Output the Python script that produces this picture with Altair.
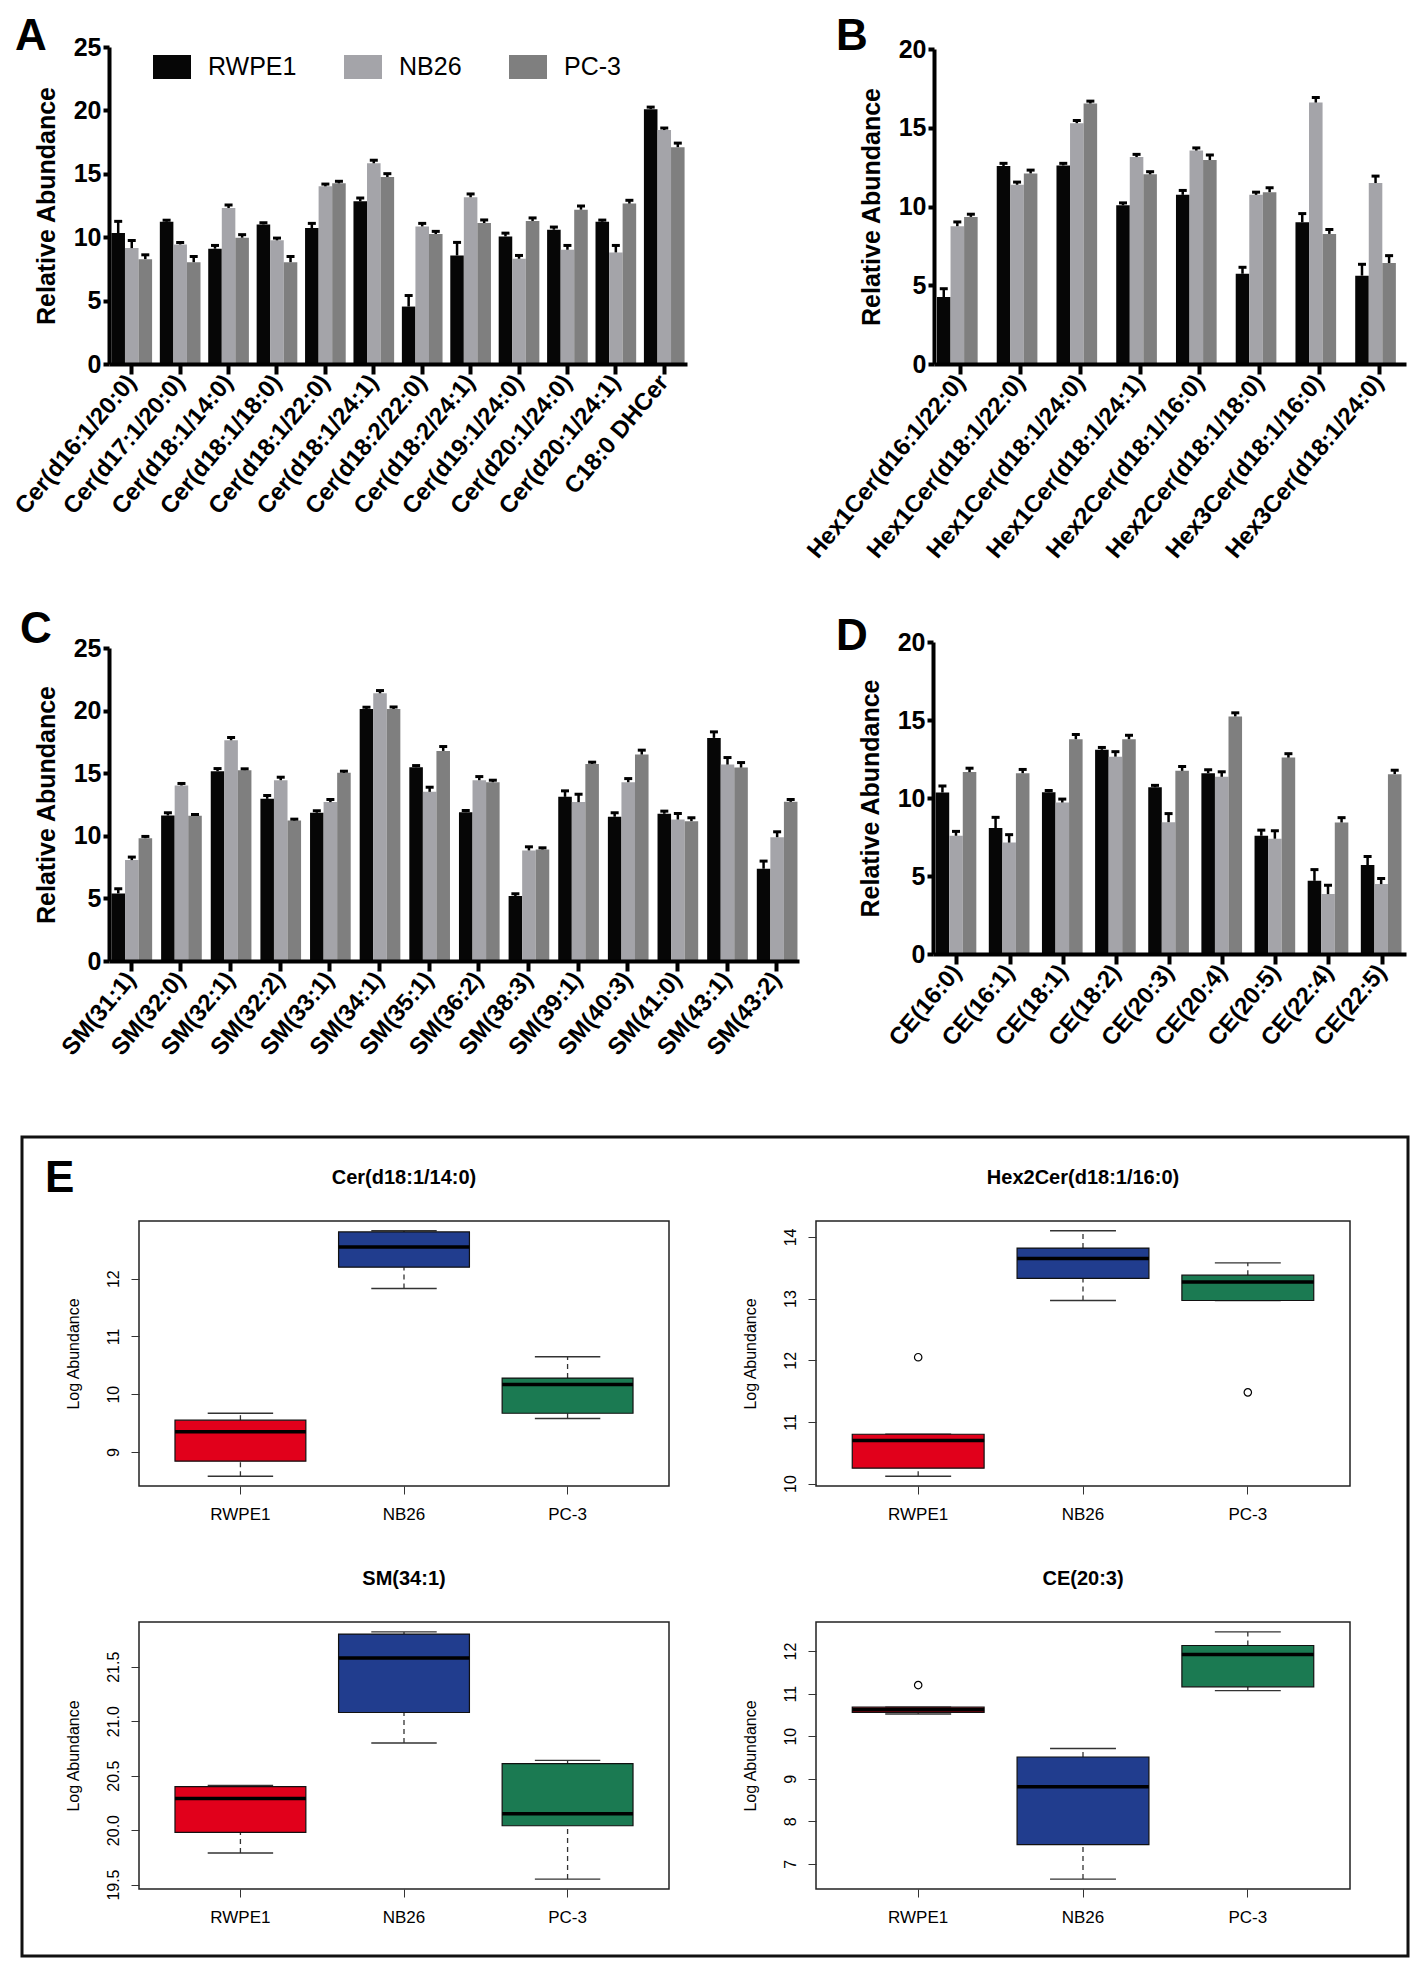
import altair as alt
import pandas as pd

GROUPS = ["RWPE1", "NB26", "PC-3"]
BAR_COLORS = ["#060606", "#a4a4a9", "#7f7f7f"]
BOX_COLORS = ["#e1001b", "#213d8e", "#1b7a52"]
FONT = "Liberation Sans, Arial, Helvetica, sans-serif"

# ---------------- Panel A ----------------
A_CATS = ["Cer(d16:1/20:0)", "Cer(d17:1/20:0)", "Cer(d18:1/14:0)", "Cer(d18:1/18:0)",
          "Cer(d18:1/22:0)", "Cer(d18:1/24:1)", "Cer(d18:2/22:0)", "Cer(d18:2/24:1)",
          "Cer(d19:1/24:0)", "Cer(d20:1/24:0)", "Cer(d20:1/24:1)", "C18:0 DHCer"]
A_RWPE1 = [10.33, 11.22, 9.09, 11.01, 10.72, 12.83, 4.53, 8.56, 10.06, 10.59, 11.22, 20.1]
A_RWPE1_ERR = [0.92, 0.12, 0.26, 0.13, 0.37, 0.26, 0.87, 1.03, 0.26, 0.21, 0.13, 0.16]
A_NB26 = [9.14, 9.43, 12.3, 9.75, 14.01, 15.83, 10.85, 13.15, 8.3, 9.01, 8.8, 18.45]
A_NB26_ERR = [0.6, 0.15, 0.24, 0.18, 0.18, 0.24, 0.24, 0.26, 0.26, 0.34, 0.55, 0.16]
A_PC3 = [8.27, 8.03, 9.96, 8.03, 14.25, 14.75, 10.25, 11.12, 11.28, 12.17, 12.65, 17.1]
A_PC3_ERR = [0.34, 0.45, 0.24, 0.45, 0.16, 0.26, 0.21, 0.24, 0.24, 0.29, 0.26, 0.32]

# ---------------- Panel B ----------------
B_CATS = ["Hex1Cer(d16:1/22:0)", "Hex1Cer(d18:1/22:0)", "Hex1Cer(d18:1/24:0)", "Hex1Cer(d18:1/24:1)",
          "Hex2Cer(d18:1/16:0)", "Hex2Cer(d18:1/18:0)", "Hex3Cer(d18:1/16:0)", "Hex3Cer(d18:1/24:0)"]
B_RWPE1 = [4.25, 12.57, 12.61, 10.08, 10.74, 5.73, 9.0, 5.61]
B_RWPE1_ERR = [0.53, 0.17, 0.13, 0.15, 0.28, 0.41, 0.55, 0.72]
B_NB26 = [8.75, 11.38, 15.29, 13.14, 13.55, 10.74, 16.6, 11.49]
B_NB26_ERR = [0.27, 0.17, 0.17, 0.17, 0.17, 0.17, 0.32, 0.44]
B_PC3 = [9.34, 12.1, 16.54, 12.04, 12.95, 10.91, 8.26, 6.41]
B_PC3_ERR = [0.17, 0.21, 0.15, 0.17, 0.32, 0.28, 0.28, 0.47]

# ---------------- Panel C ----------------
C_CATS = ["SM(31:1)", "SM(32:0)", "SM(32:1)", "SM(32:2)", "SM(33:1)", "SM(34:1)", "SM(35:1)",
          "SM(36:2)", "SM(38:3)", "SM(39:1)", "SM(40:3)", "SM(41:0)", "SM(43:1)", "SM(43:2)"]
C_RWPE1 = [5.4, 11.62, 15.16, 12.95, 11.84, 20.13, 15.48, 11.89, 5.19, 13.11, 11.52, 11.76, 17.82, 7.37]
C_RWPE1_ERR = [0.37, 0.22, 0.21, 0.27, 0.16, 0.14, 0.13, 0.13, 0.18, 0.48, 0.32, 0.21, 0.48, 0.61]
C_NB26 = [8.06, 14.02, 17.63, 14.44, 12.69, 21.38, 13.51, 14.44, 8.83, 12.69, 14.28, 11.3, 15.69, 9.89]
C_NB26_ERR = [0.24, 0.16, 0.22, 0.24, 0.21, 0.22, 0.37, 0.29, 0.29, 0.63, 0.29, 0.48, 0.56, 0.43]
C_PC3 = [9.81, 11.6, 15.24, 11.22, 15.03, 20.13, 16.78, 14.28, 8.91, 15.74, 16.49, 11.17, 15.45, 12.71]
C_PC3_ERR = [0.14, 0.1, 0.11, 0.11, 0.13, 0.16, 0.35, 0.16, 0.13, 0.14, 0.35, 0.27, 0.4, 0.19]

# ---------------- Panel D ----------------
D_CATS = ["CE(16:0)", "CE(16:1)", "CE(18:1)", "CE(18:2)", "CE(20:3)", "CE(20:4)", "CE(20:5)",
          "CE(22:4)", "CE(22:5)"]
D_RWPE1 = [10.35, 8.07, 10.37, 13.09, 10.69, 11.59, 7.58, 4.69, 5.7]
D_RWPE1_ERR = [0.42, 0.69, 0.11, 0.15, 0.12, 0.22, 0.36, 0.72, 0.55]
D_NB26 = [7.58, 7.14, 9.71, 12.65, 8.45, 11.36, 7.39, 3.84, 4.48]
D_NB26_ERR = [0.28, 0.51, 0.22, 0.32, 0.55, 0.32, 0.51, 0.57, 0.36]
D_PC3 = [11.66, 11.59, 13.77, 13.77, 11.74, 15.23, 12.59, 8.43, 11.53]
D_PC3_ERR = [0.25, 0.24, 0.3, 0.25, 0.28, 0.23, 0.25, 0.31, 0.25]

# ---------------- Panel E (box plot summaries) ----------------
E1_NAME = "Cer(d18:1/14:0)"
E1_LO = [8.58, 11.83, 9.58]
E1_Q1 = [8.84, 12.2, 9.67]
E1_MED = [9.35, 12.55, 10.17]
E1_Q3 = [9.55, 12.81, 10.28]
E1_HI = [9.67, 12.83, 10.65]
E1_OUT_GRP = []
E1_OUT_VAL = []
E1_TICKS = [9, 10, 11, 12]

E2_NAME = "Hex2Cer(d18:1/16:0)"
E2_LO = [10.12, 12.97, 12.97]
E2_Q1 = [10.25, 13.33, 12.97]
E2_MED = [10.7, 13.65, 13.27]
E2_Q3 = [10.8, 13.82, 13.38]
E2_HI = [10.8, 14.1, 13.58]
E2_OUT_GRP = ["RWPE1", "PC-3"]
E2_OUT_VAL = [12.05, 11.48]
E2_TICKS = [10, 11, 12, 13, 14]

E3_NAME = "SM(34:1)"
E3_LO = [19.79, 20.8, 19.55]
E3_Q1 = [19.98, 21.08, 20.04]
E3_MED = [20.29, 21.58, 20.15]
E3_Q3 = [20.4, 21.8, 20.61]
E3_HI = [20.41, 21.82, 20.64]
E3_OUT_GRP = []
E3_OUT_VAL = []
E3_TICKS = [19.5, 20.0, 20.5, 21.0, 21.5]

E4_NAME = "CE(20:3)"
E4_LO = [10.52, 6.64, 11.07]
E4_Q1 = [10.56, 7.45, 11.16]
E4_MED = [10.62, 8.81, 11.92]
E4_Q3 = [10.68, 9.51, 12.13]
E4_HI = [10.68, 9.71, 12.45]
E4_OUT_GRP = ["RWPE1"]
E4_OUT_VAL = [11.2]
E4_TICKS = [7, 8, 9, 10, 11, 12]


def letter_layer(letter, lx, ly):
    return alt.Chart(pd.DataFrame({"t": [letter]})).mark_text(
        font=FONT, fontSize=44, fontWeight="bold", align="left", baseline="alphabetic",
        color="black").encode(text="t:N", x=alt.value(lx), y=alt.value(ly))


def bar_panel(cats, vals, errs, ymax, yticks, xr, yr, w, h, pad_inner, letter, lpos, legend=None):
    rows = []
    for g, vs, es in zip(GROUPS, vals, errs):
        for c, v, e in zip(cats, vs, es):
            rows.append({"cat": c, "grp": g, "val": v, "top": round(v + e, 3)})
    df = pd.DataFrame(rows)
    x = alt.X("cat:N", sort=cats,
              scale=alt.Scale(domain=cats, range=xr, paddingInner=pad_inner, paddingOuter=0.05),
              axis=alt.Axis(title=None, labelAngle=310, labelAlign="right", labelBaseline="middle",
                            labelFont=FONT, labelFontSize=24, labelFontWeight="bold", labelColor="black",
                            labelLimit=500, labelOverlap=False, labelPadding=4, tickSize=10, tickWidth=4,
                            tickColor="black", domainWidth=4, domainColor="black", zindex=1))
    xo = alt.XOffset("grp:N", sort=GROUPS,
                     scale=alt.Scale(domain=GROUPS, paddingInner=0, paddingOuter=0))
    ys = alt.Scale(domain=[0, ymax], range=yr, nice=False, zero=True)
    yax = alt.Axis(values=yticks, grid=False, offset=-xr[0], labelFont=FONT, labelFontSize=25,
                   labelFontWeight="bold", labelColor="black", labelPadding=2, tickSize=6, tickWidth=4,
                   tickColor="black", domainWidth=4, domainColor="black", titleFont=FONT, titleFontSize=25,
                   titleFontWeight="bold", titleColor="black", titlePadding=14, zindex=1)

    def Y(f):
        return alt.Y(f, scale=ys, axis=yax, title="Relative Abundance")

    color = alt.Color("grp:N", scale=alt.Scale(domain=GROUPS, range=BAR_COLORS), legend=legend)
    base = alt.Chart(df)
    bars = base.mark_bar(strokeWidth=0, opacity=1).encode(x=x, xOffset=xo, y=Y("val:Q"), color=color)
    err = base.mark_rule(color="black", strokeWidth=2.5).encode(x=x, xOffset=xo, y=Y("val:Q"), y2="top:Q")
    cap = base.mark_tick(color="black", thickness=3, size=8, opacity=1).encode(x=x, xOffset=xo, y=Y("top:Q"))
    return alt.layer(bars, err, cap, letter_layer(letter, lpos[0], lpos[1])).properties(width=w, height=h)


def box_panel(name, lo, q1, med, q3, hi, out_grp, out_val, ticks, fmt, width, height):
    df = pd.DataFrame({"grp": GROUPS, "lo": lo, "q1": q1, "med": med, "q3": q3, "hi": hi,
                       "fill": BOX_COLORS})
    allv = lo + hi + out_val
    span = max(allv) - min(allv)
    dom = [min(allv) - 0.04 * span, max(allv) + 0.04 * span]
    step = width / 3.24
    box_w = 0.8 * step
    cap_w = 0.5 * box_w
    x = alt.X("grp:N", sort=GROUPS,
              scale=alt.Scale(domain=GROUPS, paddingInner=0.2, paddingOuter=0.22),
              axis=alt.Axis(title=None, labelAngle=0, labelFont=FONT, labelFontSize=17,
                            labelFontWeight="normal", labelColor="black", labelPadding=12,
                            tickSize=8, tickColor="#333333", tickWidth=1, domain=False))
    ys = alt.Scale(domain=dom, nice=False, zero=False)
    yax = alt.Axis(values=ticks, format=fmt, labelAngle=270, labelAlign="center", labelBaseline="bottom",
                   labelFont=FONT, labelFontSize=16, labelColor="black", labelPadding=10, tickSize=8,
                   tickColor="#333333", tickWidth=1, domain=False, grid=False, titleFont=FONT,
                   titleFontSize=16, titleFontWeight="normal", titleColor="black", titlePadding=24)

    def Y(f):
        return alt.Y(f, scale=ys, axis=yax, title="Log Abundance")

    base = alt.Chart(df)
    up = base.mark_rule(color="#333333", strokeWidth=1.3, strokeDash=[5, 4]).encode(x=x, y=Y("q3:Q"), y2="hi:Q")
    dn = base.mark_rule(color="#333333", strokeWidth=1.3, strokeDash=[5, 4]).encode(x=x, y=Y("lo:Q"), y2="q1:Q")
    cap_hi = base.mark_tick(color="#333333", thickness=1.4, size=cap_w, opacity=1).encode(x=x, y=Y("hi:Q"))
    cap_lo = base.mark_tick(color="#333333", thickness=1.4, size=cap_w, opacity=1).encode(x=x, y=Y("lo:Q"))
    box = base.mark_bar(stroke="#111111", strokeWidth=1.2, opacity=1).encode(
        x=x, y=Y("q1:Q"), y2="q3:Q", color=alt.Color("fill:N", scale=None))
    medl = base.mark_tick(color="black", thickness=3.5, size=box_w, opacity=1).encode(x=x, y=Y("med:Q"))
    layers = [up, dn, cap_hi, cap_lo, box, medl]
    if out_val:
        odf = pd.DataFrame({"grp": out_grp, "val": out_val})
        layers.append(alt.Chart(odf).mark_point(shape="circle", filled=False, size=55, color="black",
                                                strokeWidth=1.2, opacity=1).encode(x=x, y=Y("val:Q")))
    return alt.layer(*layers).properties(
        width=width, height=height,
        title=alt.Title(name, font=FONT, fontSize=20, fontWeight="bold", color="black",
                        offset=33, anchor="middle", frame="group"),
        view=alt.ViewBackground(stroke="#222222", strokeWidth=1.5))


SP_DF = pd.DataFrame({"v": [0]})


def spacer(w, h, letter=None, lpos=(0, 0), frame=None):
    layers = [alt.Chart(SP_DF).mark_point(opacity=0).encode(
        x=alt.X("v:Q", axis=None), y=alt.Y("v:Q", axis=None))]
    if letter:
        layers.append(letter_layer(letter, lpos[0], lpos[1]))
    if frame:
        layers.append(alt.Chart(pd.DataFrame({"f": [0]})).mark_rect(
            fillOpacity=0, stroke="#111111", strokeWidth=3).encode(
            x=alt.value(frame[0]), x2=alt.value(frame[1]), y=alt.value(frame[2]), y2=alt.value(frame[3])))
    return alt.layer(*layers).properties(width=w, height=h)


legendA = alt.Legend(orient="none", legendX=144, legendY=37, direction="horizontal", title=None,
                     symbolType="M-1,-0.632L1,-0.632L1,0.632L-1,0.632Z", symbolSize=1444,
                     symbolStrokeWidth=0, symbolOpacity=1, labelFont=FONT, labelFontSize=25,
                     labelFontWeight="normal", labelColor="black", labelOffset=17, columnPadding=47)

chartA = bar_panel(A_CATS, [A_RWPE1, A_NB26, A_PC3], [A_RWPE1_ERR, A_NB26_ERR, A_PC3_ERR],
                   25, [0, 5, 10, 15, 20, 25], [100, 678], [353, 36], 130, 353, 0.16,
                   "A", (6, 39), legend=legendA)
chartB = bar_panel(B_CATS, [B_RWPE1, B_NB26, B_PC3], [B_RWPE1_ERR, B_NB26_ERR, B_PC3_ERR],
                   20, [0, 5, 10, 15, 20], [118, 590], [353, 38], 590, 353, 0.2, "B", (20, 39))
chartC = bar_panel(C_CATS, [C_RWPE1, C_NB26, C_PC3], [C_RWPE1_ERR, C_NB26_ERR, C_PC3_ERR],
                   25, [0, 5, 10, 15, 20, 25], [100, 790], [597, 284], 130, 597, 0.2, "C", (11, 279))
chartD = bar_panel(D_CATS, [D_RWPE1, D_NB26, D_PC3], [D_RWPE1_ERR, D_NB26_ERR, D_PC3_ERR],
                   20, [0, 5, 10, 15, 20], [117, 590], [590, 278], 590, 590, 0.2, "D", (20, 286))

chartE1 = box_panel(E1_NAME, E1_LO, E1_Q1, E1_MED, E1_Q3, E1_HI, E1_OUT_GRP, E1_OUT_VAL, E1_TICKS, "d", 530, 265)
chartE2 = box_panel(E2_NAME, E2_LO, E2_Q1, E2_MED, E2_Q3, E2_HI, E2_OUT_GRP, E2_OUT_VAL, E2_TICKS, "d", 534, 265)
chartE3 = box_panel(E3_NAME, E3_LO, E3_Q1, E3_MED, E3_Q3, E3_HI, E3_OUT_GRP, E3_OUT_VAL, E3_TICKS, ".1f", 530, 267)
chartE4 = box_panel(E4_NAME, E4_LO, E4_Q1, E4_MED, E4_Q3, E4_HI, E4_OUT_GRP, E4_OUT_VAL, E4_TICKS, "d", 534, 267)

cells = [
    chartA, spacer(677, 1), chartB,
    chartC, spacer(1, 857), chartD,
    spacer(130, 401, "E", (36, -29), frame=(13, 1399, -84, 735)), chartE1, chartE2,
    spacer(130, 1), chartE3, chartE4,
]

chart = alt.concat(*cells, columns=3, spacing=0, bounds="flush").properties(
    padding=0).configure_view(stroke="transparent")

chart.save("out.html", embed_options={"renderer": "svg", "actions": False})
